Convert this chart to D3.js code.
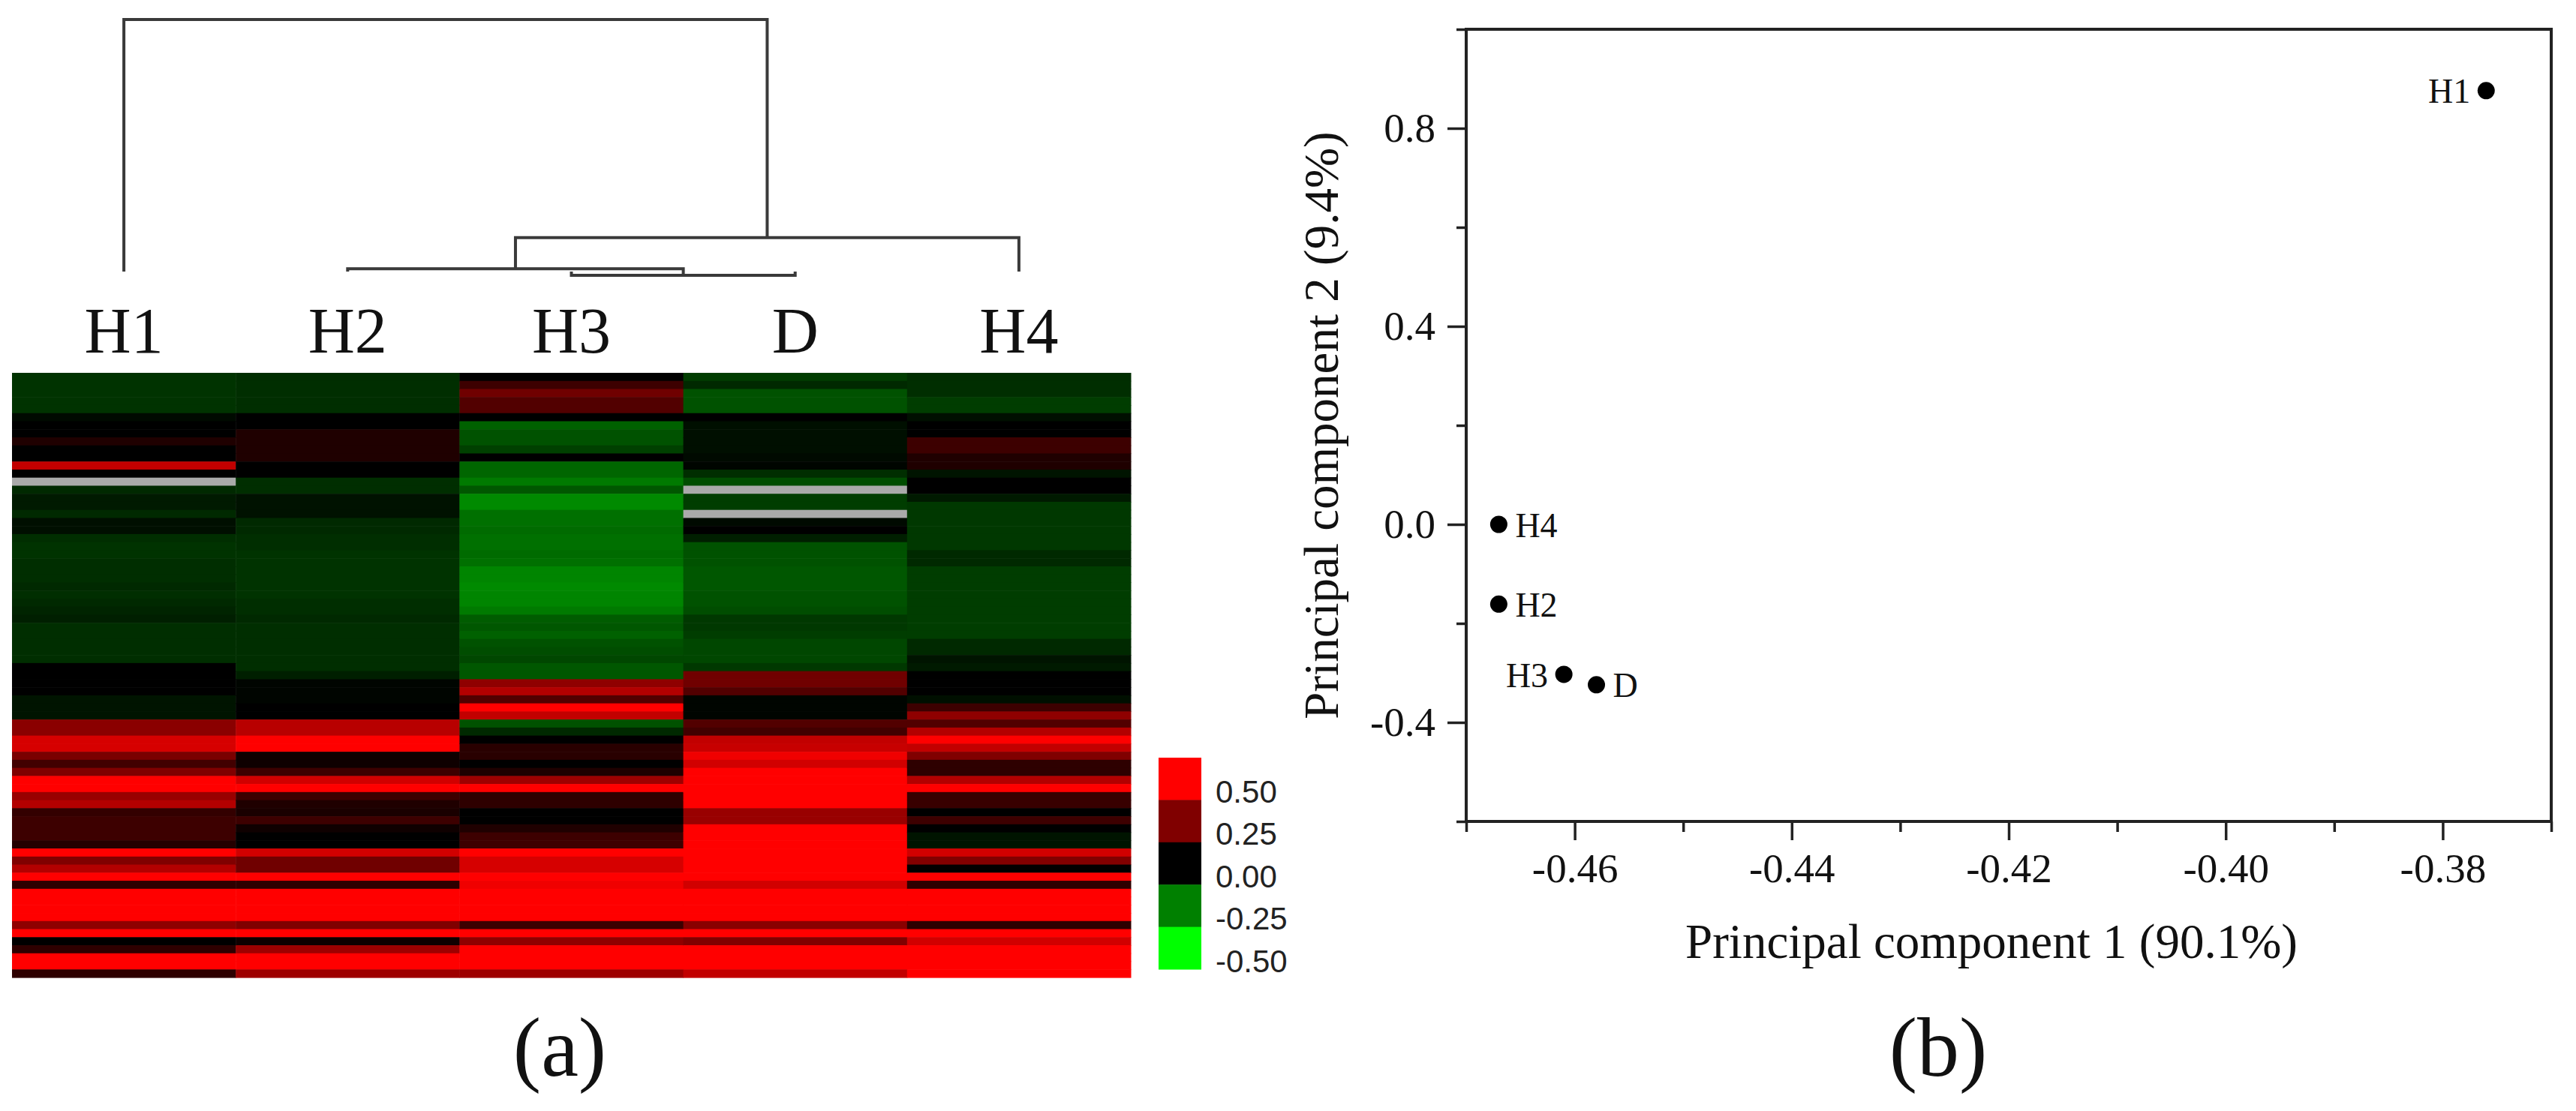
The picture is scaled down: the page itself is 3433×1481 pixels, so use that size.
<!DOCTYPE html>
<html>
<head>
<meta charset="utf-8">
<title>Heatmap with dendrogram and PCA</title>
<script src="https://d3js.org/d3.v7.min.js"></script>
<style>
	body {
		margin: 0;
		padding: 0;
		background: #fff;
	}
	text {
		font-family: "Liberation Serif", "Times New Roman", serif;
		fill: #111;
	}
</style>
</head>
<body>
<div id="chart"></div>
<script>

// samples in heatmap column order
var samples = ["H1", "H2", "H3", "D", "H4"];

// heatmap values, one array per sample, top row first (null = missing, drawn grey)
var valH1 = [-0.1, -0.1, -0.1, -0.1, -0.1, -0.02, 0, 0, 0.06, 0,
	0, 0.38, 0, null, -0.08, -0.05, -0.05, -0.08, -0.03, -0.03,
	-0.09, -0.1, -0.1, -0.09, -0.09, -0.09, -0.08, -0.09, -0.08, -0.07,
	-0.06, -0.09, -0.09, -0.09, -0.09, -0.09, 0, 0, 0, 0,
	-0.04, -0.04, -0.04, 0.27, 0.27, 0.42, 0.42, 0.24, 0.13, 0.25,
	0.5, 0.5, 0.3, 0.35, 0.1, 0.12, 0.12, 0.12, 0.07, 0.5,
	0.25, 0.35, 0.5, 0.09, 0.5, 0.5, 0.5, 0.5, 0.28, 0.5,
	0, 0.09, 0.5, 0.5, 0.09];
var valH2 = [-0.09, -0.09, -0.09, -0.09, -0.09, 0, 0, 0.06, 0.06, 0.06,
	0.06, 0, 0, -0.09, -0.09, -0.035, -0.035, -0.035, -0.08, -0.08,
	-0.09, -0.09, -0.1, -0.1, -0.1, -0.1, -0.1, -0.1, -0.09, -0.09,
	-0.08, -0.09, -0.09, -0.09, -0.09, -0.09, -0.09, -0.06, -0.01, -0.01,
	-0.01, 0, 0, 0.36, 0.36, 0.5, 0.5, 0.03, 0.03, 0.12,
	0.41, 0.5, 0.12, 0.06, 0.05, 0.12, 0.03, 0, 0, 0.41,
	0.22, 0.22, 0.5, 0.09, 0.5, 0.5, 0.5, 0.5, 0.25, 0.5,
	0.03, 0.31, 0.5, 0.5, 0.31];
var valH3 = [0, 0.12, 0.22, 0.16, 0.16, 0, -0.19, -0.16, -0.16, -0.125,
	0, -0.2, -0.2, -0.24, -0.17, -0.27, -0.27, -0.22, -0.22, -0.21,
	-0.22, -0.22, -0.21, -0.22, -0.26, -0.26, -0.27, -0.26, -0.26, -0.24,
	-0.18, -0.17, -0.19, -0.16, -0.15, -0.14, -0.17, -0.17, 0.28, 0.35,
	0.16, 0.5, 0.38, -0.16, -0.08, 0, 0.08, 0.08, 0, 0.06,
	0.31, 0.5, 0.09, 0.09, 0, 0, 0.06, 0.12, 0.12, 0.5,
	0.42, 0.42, 0.5, 0.47, 0.5, 0.5, 0.5, 0.5, 0.12, 0.5,
	0.28, 0.5, 0.5, 0.5, 0.31];
var valD = [-0.12, -0.08, -0.16, -0.16, -0.16, 0, -0.03, -0.03, -0.03, -0.03,
	-0.02, -0.01, -0.09, -0.15, null, -0.12, -0.12, null, -0.02, 0,
	-0.06, -0.16, -0.16, -0.16, -0.17, -0.17, -0.17, -0.16, -0.16, -0.15,
	-0.11, -0.11, -0.12, -0.14, -0.14, -0.14, -0.11, 0.22, 0.22, 0.16,
	-0.01, -0.01, -0.01, 0.16, 0.13, 0.38, 0.39, 0.47, 0.41, 0.5,
	0.5, 0.5, 0.5, 0.5, 0.3, 0.3, 0.5, 0.5, 0.5, 0.5,
	0.5, 0.5, 0.5, 0.41, 0.5, 0.5, 0.5, 0.5, 0.27, 0.5,
	0.25, 0.5, 0.5, 0.5, 0.38];
var valH4 = [-0.09, -0.09, -0.09, -0.12, -0.12, -0.03, 0, 0, 0.12, 0.12,
	0.06, 0.06, -0.04, 0, 0, -0.05, -0.11, -0.11, -0.11, -0.11,
	-0.11, -0.11, -0.08, -0.08, -0.12, -0.12, -0.12, -0.12, -0.12, -0.12,
	-0.12, -0.12, -0.12, -0.08, -0.08, -0.04, -0.05, 0, 0, 0,
	-0.03, 0.12, 0.28, 0.16, 0.35, 0.5, 0.38, 0.25, 0.09, 0.09,
	0.35, 0.5, 0.11, 0.11, 0, 0.12, 0, -0.04, -0.04, 0.41,
	0.25, 0, 0.5, 0.09, 0.5, 0.5, 0.5, 0.5, 0.09, 0.5,
	0.41, 0.5, 0.5, 0.5, 0.5];

// colour key steps
var legendValues = [0.5, 0.25, 0, -0.25, -0.5];

// dendrogram: merge i joins mergeLeft[i] and mergeRight[i] at mergeHeight[i]
var mergeLeft = ["H3", "H2", "m1", "H1"];
var mergeRight = ["D", "m0", "H4", "m2"];
var mergeHeight = [0, 0.026, 0.147, 1];
var leafHeight = 0.015;

// PCA scores
var pcaNames = ["H1", "H4", "H2", "H3", "D"];
var pc1 = [-0.376, -0.467, -0.467, -0.461, -0.458];
var pc2 = [0.876, 0, -0.161, -0.303, -0.324];
var pcaLabelSide = ["left", "right", "right", "left", "right"];
var pc1Ticks = [-0.46, -0.44, -0.42, -0.40, -0.38];
var pc1Minor = [-0.47, -0.45, -0.43, -0.41, -0.39, -0.37];
var pc2Ticks = [-0.4, 0, 0.4, 0.8];
var pc2Minor = [-0.6, -0.2, 0.2, 0.6, 1.0];

var ww = 3433,
	wh = 1481;

var svg = d3.select("#chart").append("svg")
	.attr("width", ww)
	.attr("height", wh);

svg.append("rect").attr("width", ww).attr("height", wh).attr("fill", "#fff");

// ---------- (a) heatmap ----------
var heatVals = { H1: valH1, H2: valH2, H3: valH3, D: valD, H4: valH4 };
var nRows = valH1.length;

var xCol = d3.scaleBand().domain(samples).range([16, 1507]);
var yRow = d3.scaleBand().domain(d3.range(nRows)).range([497, 1303]);

var color = d3.scaleLinear()
	.domain([-0.5, 0, 0.5])
	.range(["#00ff00", "#000000", "#ff0000"])
	.clamp(true);

var cells = [];
samples.forEach(function(s) {
	heatVals[s].forEach(function(v, i) {
		cells.push({ s: s, i: i, v: v });
	});
});

svg.append("g").selectAll("rect")
	.data(cells)
	.enter().append("rect")
	.attr("x", function(d) { return xCol(d.s); })
	.attr("y", function(d) { return yRow(d.i); })
	.attr("width", xCol.bandwidth() + 0.5)
	.attr("height", yRow.bandwidth() + 0.6)
	.attr("fill", function(d) { return d.v === null ? "#aaaaaa" : color(d.v); });

// sample labels
svg.append("g").selectAll("text")
	.data(samples)
	.enter().append("text")
	.attr("x", function(d) { return xCol(d) + xCol.bandwidth() / 2; })
	.attr("y", 470)
	.attr("text-anchor", "middle")
	.style("font-size", "86px")
	.text(function(d) { return d; });

// dendrogram
var yDen = d3.scaleLinear().domain([0, 1]).range([367, 26]);
var nodes = {};
samples.forEach(function(s) {
	nodes[s] = { x: xCol(s) + xCol.bandwidth() / 2, h: leafHeight };
});
var links = [];
mergeLeft.forEach(function(l, i) {
	var a = nodes[l], b = nodes[mergeRight[i]];
	nodes["m" + i] = { x: (a.x + b.x) / 2, h: mergeHeight[i] };
	links.push({ a: a, b: b, h: mergeHeight[i] });
});

svg.append("g").selectAll("path")
	.data(links)
	.enter().append("path")
	.attr("d", function(d) {
		return "M" + d.a.x + "," + yDen(d.a.h) + "V" + yDen(d.h) +
			"H" + d.b.x + "V" + yDen(d.b.h);
	})
	.attr("fill", "none")
	.attr("stroke", "#3a3a3a")
	.attr("stroke-width", 4);

// colour key
var keyY = d3.scaleBand().domain(legendValues).range([1010, 1292]);
var key = svg.append("g");
key.selectAll("rect")
	.data(legendValues)
	.enter().append("rect")
	.attr("x", 1544)
	.attr("y", function(d) { return keyY(d); })
	.attr("width", 57)
	.attr("height", keyY.bandwidth() + 0.5)
	.attr("fill", function(d) { return color(d); });
key.selectAll("text")
	.data(legendValues)
	.enter().append("text")
	.attr("x", 1620)
	.attr("y", function(d) { return keyY(d) + 60; })
	.style("font-family", "'Liberation Sans', Arial, sans-serif")
	.style("font-size", "42px")
	.style("fill", "#222")
	.text(function(d) { return d.toFixed(2); });

svg.append("text")
	.attr("x", 746)
	.attr("y", 1434)
	.attr("text-anchor", "middle")
	.style("font-size", "112px")
	.text("(a)");

// ---------- (b) PCA ----------
var x = d3.scaleLinear().domain([-0.47, -0.37]).range([1954, 3400]);
var y = d3.scaleLinear().domain([-0.6, 1.0]).range([1095, 39]);

svg.append("rect")
	.attr("x", x(-0.47))
	.attr("y", y(1.0))
	.attr("width", x(-0.37) - x(-0.47))
	.attr("height", y(-0.6) - y(1.0))
	.attr("fill", "none")
	.attr("stroke", "#222")
	.attr("stroke-width", 4);

function styleAxis(g) {
	g.select(".domain").remove();
	g.selectAll(".tick line").attr("stroke", "#222").attr("stroke-width", 3.5);
	g.selectAll(".tick text")
		.style("font-family", "'Liberation Serif', 'Times New Roman', serif")
		.style("font-size", "55px")
		.attr("fill", "#111");
}

svg.append("g")
	.attr("transform", "translate(0," + y(-0.6) + ")")
	.call(d3.axisBottom(x).tickValues(pc1Minor).tickSize(14).tickFormat(""))
	.call(styleAxis);
svg.append("g")
	.attr("transform", "translate(0," + y(-0.6) + ")")
	.call(d3.axisBottom(x).tickValues(pc1Ticks).tickSize(25).tickPadding(17)
		.tickFormat(function(d) { return d.toFixed(2); }))
	.call(styleAxis);

svg.append("g")
	.attr("transform", "translate(" + x(-0.47) + ",0)")
	.call(d3.axisLeft(y).tickValues(pc2Minor).tickSize(13).tickFormat(""))
	.call(styleAxis);
svg.append("g")
	.attr("transform", "translate(" + x(-0.47) + ",0)")
	.call(d3.axisLeft(y).tickValues(pc2Ticks).tickSize(25).tickPadding(16)
		.tickFormat(function(d) { return d.toFixed(1); }))
	.call(styleAxis);

var pts = pcaNames.map(function(n, i) {
	return { name: n, x: pc1[i], y: pc2[i], side: pcaLabelSide[i] };
});

svg.append("g").selectAll("circle")
	.data(pts)
	.enter().append("circle")
	.attr("cx", function(d) { return x(d.x); })
	.attr("cy", function(d) { return y(d.y); })
	.attr("r", 11.5)
	.attr("fill", "#000");

svg.append("g").selectAll("text")
	.data(pts)
	.enter().append("text")
	.attr("x", function(d) { return x(d.x) + (d.side === "left" ? -21 : 22); })
	.attr("y", function(d) { return y(d.y); })
	.attr("dy", "0.36em")
	.attr("text-anchor", function(d) { return d.side === "left" ? "end" : "start"; })
	.style("font-size", "46px")
	.text(function(d) { return d.name; });

svg.append("text")
	.attr("x", 2654)
	.attr("y", 1277)
	.attr("text-anchor", "middle")
	.style("font-size", "65px")
	.text("Principal component 1 (90.1%)");

svg.append("text")
	.attr("transform", "translate(1783," + ((y(1.0) + y(-0.6)) / 2) + ") rotate(-90)")
	.attr("text-anchor", "middle")
	.style("font-size", "65px")
	.text("Principal component 2 (9.4%)");

svg.append("text")
	.attr("x", 2583)
	.attr("y", 1434)
	.attr("text-anchor", "middle")
	.style("font-size", "112px")
	.text("(b)");

</script>
</body>
</html>
